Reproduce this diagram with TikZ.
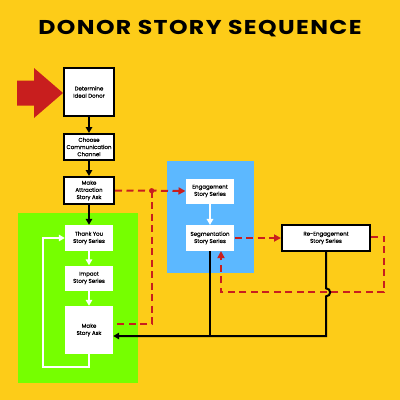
\documentclass[tikz,border=0pt]{standalone}
\usepackage{fontspec}
\setmainfont{Poppins}
\newfontfamily\titlefont[LetterSpace=7, FakeStretch=1.18]{Poppins}
\newfontfamily\labelfont[FakeBold=0.45]{Poppins}
\usetikzlibrary{arrows.meta, calc, positioning}
\definecolor{bgyellow}{RGB}{253, 204, 24}
\definecolor{zonegreen}{RGB}{118, 255, 0}
\definecolor{zoneblue}{RGB}{92, 184, 255}
\definecolor{askred}{RGB}{200, 30, 30}
\tikzset{
    stepbox/.style={draw=black, line width=2pt, fill=white, inner sep=1pt,
        align=center, font=\labelfont\fontsize{5.5}{7.2}\selectfont},
    whitebox/.style={fill=white, inner sep=1pt, align=center,
        font=\labelfont\fontsize{5.5}{7.2}\selectfont},
    blackflow/.style={line width=2pt, -{Triangle[length=6pt, width=6.5pt]}},
    whiteflow/.style={draw=white, line width=2pt,
        -{Triangle[length=6pt, width=6.5pt]}},
    redflow/.style={draw=askred, line width=2pt, dash pattern=on 7pt off 4.5pt},
}

\begin{document}
\begin{tikzpicture}[x=1pt, y=-1pt]
    \useasboundingbox[fill=bgyellow] (0, 0) rectangle (400, 400);
    % title
    \node (title) at (200, 29) {\titlefont\bfseries\fontsize{20}{20}\selectfont
        DONOR STORY SEQUENCE};
    % zones
    \fill[zonegreen] (18, 213) rectangle (138, 383);
    \fill[zoneblue] (167, 161) rectangle (254, 273);
    % entry arrow
    \fill[askred] (17, 80.5) -- (34, 80.5) -- (34, 68) -- (63, 93) -- (34, 118)
        -- (34, 105.5) -- (17, 105.5) -- cycle;
    % nodes
    \node[stepbox, minimum width=50pt, minimum height=48pt] (donor)
        at (89, 92) {Determine\\Ideal Donor};
    \node[stepbox, minimum width=50pt, minimum height=26pt] (channel)
        at (89, 147) {Choose\\Communication\\Channel};
    \node[stepbox, minimum width=50pt, minimum height=27pt] (attract)
        at (89, 190.5) {Make\\Attraction\\Story Ask};
    \node[whitebox, minimum width=48pt, minimum height=26pt] (thanks)
        at (89, 238) {Thank You\\Story Series};
    \node[whitebox, minimum width=48pt, minimum height=25pt] (impact)
        at (89, 278) {Impact\\Story Series};
    \node[whitebox, minimum width=48pt, minimum height=48pt] (ask)
        at (89, 330) {Make\\Story Ask};
    \node[whitebox, minimum width=48.6pt, minimum height=25pt] (engage)
        at (210, 191) {Engagement\\Story Series};
    \node[whitebox, minimum width=48.6pt, minimum height=25.7pt] (segment)
        at (210, 238) {Segmentation\\Story Series};
    \node[stepbox, minimum width=88pt, minimum height=25.7pt] (reengage)
        at (326, 238) {Re-Engagement\\Story Series};
    \coordinate (split) at (151.7, 190.7);
    \coordinate (hop) at ([yshift=-40.5pt]reengage.south);
    \coordinate (loopin) at ([xshift=11pt]segment.south);
    % main flow
    \draw[blackflow] (donor) -- (channel);
    \draw[blackflow] (channel) -- (attract);
    \draw[blackflow] (attract) -- (thanks);
    \draw[whiteflow] (thanks) -- (impact);
    \draw[whiteflow] (impact) -- (ask);
    \draw[whiteflow] (ask.south) -- ++(0, 13) -| ([xshift=-22pt]thanks.west)
        -- (thanks.west);
    \draw[whiteflow] (engage) -- (segment);
    % red dashed paths
    \draw[redflow, -{Triangle[length=7pt, width=7pt]}] (attract.east) -- (split)
        -- (engage.west);
    \draw[redflow] (split) |- ([yshift=6pt]ask.east);
    \fill[askred] (split) circle[radius=2.6pt];
    \draw[redflow, -{Triangle[length=7pt, width=7pt]}] (segment.east)
        -- (reengage.west);
    \draw[redflow, -{Triangle[length=7pt, width=7pt]}]
        ([yshift=1.5pt]reengage.east) -- ++(13.3, 0) |- (loopin |- hop)
        -- (loopin);
    % return lines
    \draw[line width=2pt] (segment.south) -- ++(0, 86);
    \draw[blackflow] (reengage.south) -- ([yshift=4pt]hop)
        .. controls ([xshift=5.5pt, yshift=4pt]hop)
        and ([xshift=5.5pt, yshift=-4pt]hop) .. ([yshift=-4pt]hop)
        |- ([yshift=-6pt]ask.east);
\end{tikzpicture}
\end{document}
